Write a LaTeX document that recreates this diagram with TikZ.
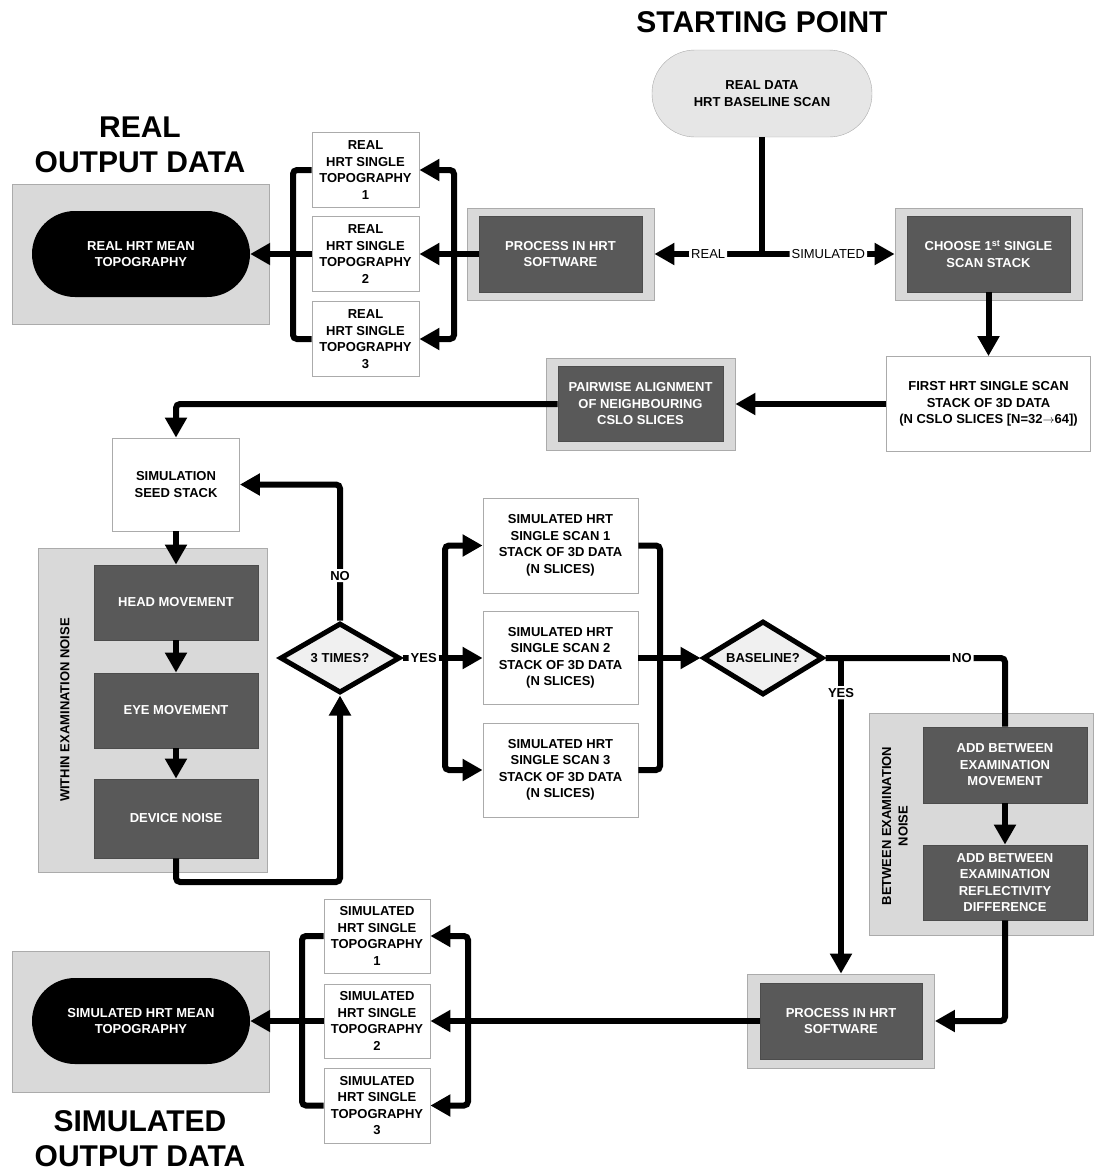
\documentclass[tikz,border=0pt]{standalone}
\usepackage{fontspec}
\setmainfont{Liberation Sans}
\usetikzlibrary{shapes.geometric}
\usetikzlibrary{arrows.meta}
\definecolor{boxdark}{HTML}{595959}
\definecolor{framegrey}{HTML}{D9D9D9}
\definecolor{edgegrey}{HTML}{ABABAB}
\definecolor{diafill}{HTML}{F0F0F0}
\definecolor{startfill}{HTML}{E6E6E6}
\newcommand{\boxfont}{\fontsize{13}{16.5}\selectfont\bfseries}
\newcommand{\labelfont}{\fontsize{13}{16}\selectfont}
\newcommand{\titlefont}{\fontsize{30}{35}\selectfont\bfseries}
\tikzset{
	whitebox/.style={
		rectangle,
		draw=edgegrey,
		fill=white,
		line width=0.8pt,
		align=center,
		inner sep=0pt,
		font=\boxfont
	},
	darkbox/.style={
		rectangle,
		draw=black!70,
		fill=boxdark,
		text=white,
		line width=0.8pt,
		align=center,
		inner sep=0pt,
		font=\boxfont
	},
	frame/.style={
		rectangle,
		draw=edgegrey,
		fill=framegrey,
		line width=0.8pt,
		inner sep=0pt
	},
	terminal/.style={
		rectangle,
		rounded corners=43pt,
		align=center,
		inner sep=0pt,
		font=\boxfont
	},
	decision/.style={
		diamond,
		aspect=2,
		draw=black,
		fill=diafill,
		line width=5pt,
		inner sep=0pt,
		font=\boxfont
	},
	conn/.style={line width=6pt, rounded corners=4pt},
	connarr/.style={conn, -{Triangle[length=20pt,width=21pt]}},
	lbl/.style={fill=white, inner sep=2pt, font=\boxfont}
}
\begin{document}
\begin{tikzpicture}[x=1pt, y=-1pt]
	\useasboundingbox (0,0) rectangle (1094,1171);

	% titles
	\draw node[font=\titlefont] (TitleStart) at (762,22) {STARTING POINT};
	\draw node[font=\titlefont, align=center] (TitleReal) at (140,145) {REAL\\OUTPUT DATA};
	\draw node[font=\titlefont, align=center] (TitleSim) at (140,1139) {SIMULATED\\OUTPUT DATA};

	% grey frames
	\draw node[frame, minimum width=257pt, minimum height=140pt] (RealOutFrame) at (140.5,254) {};
	\draw node[frame, minimum width=187pt, minimum height=92pt] (ProcRealFrame) at (560.5,254) {};
	\draw node[frame, minimum width=187pt, minimum height=92pt] (ChooseFrame) at (988.5,254) {};
	\draw node[frame, minimum width=189pt, minimum height=92pt] (PairwiseFrame) at (640.5,404) {};
	\draw node[frame, minimum width=229pt, minimum height=324pt] (WithinFrame) at (152.5,710) {};
	\draw node[frame, minimum width=224pt, minimum height=222pt] (BetweenFrame) at (981,824) {};
	\draw node[frame, minimum width=187pt, minimum height=94pt] (ProcSimFrame) at (841,1021) {};
	\draw node[frame, minimum width=257pt, minimum height=141pt] (SimOutFrame) at (140.5,1021.5) {};

	\draw node[font=\boxfont, rotate=90] (WithinLabel) at (65,710) {WITHIN EXAMINATION NOISE};
	\draw node[font=\boxfont, rotate=90, align=center] (BetweenLabel) at (895,826) {BETWEEN EXAMINATION\\NOISE};

	% real branch
	\draw node[terminal, minimum width=220pt, minimum height=87pt, draw=edgegrey, fill=startfill] (StartScan) at (762,93.5) {REAL DATA\\HRT BASELINE SCAN};
	\draw node[darkbox, minimum width=163pt, minimum height=76pt] (ProcReal) at (560.5,254) {PROCESS IN HRT\\SOFTWARE};
	\draw node[whitebox, minimum width=107pt, minimum height=75pt] (RealTopoOne) at (365.5,170) {REAL\\HRT SINGLE\\TOPOGRAPHY\\1};
	\draw node[whitebox, minimum width=107pt, minimum height=75pt] (RealTopoTwo) at (365.5,254) {REAL\\HRT SINGLE\\TOPOGRAPHY\\2};
	\draw node[whitebox, minimum width=107pt, minimum height=75pt] (RealTopoThree) at (365.5,339) {REAL\\HRT SINGLE\\TOPOGRAPHY\\3};
	\draw node[terminal, minimum width=218pt, minimum height=86pt, fill=black, text=white] (RealMean) at (141,254) {REAL HRT MEAN\\TOPOGRAPHY};

	% simulation
	\draw node[darkbox, minimum width=163pt, minimum height=76pt] (Choose) at (988.5,254) {CHOOSE 1\textsuperscript{st} SINGLE\\SCAN STACK};
	\draw node[whitebox, minimum width=204pt, minimum height=95pt] (FirstStack) at (988.5,404) {FIRST HRT SINGLE SCAN\\STACK OF 3D DATA\\(N CSLO SLICES [N=32$\rightarrow$64])};
	\draw node[darkbox, minimum width=165pt, minimum height=75pt] (Pairwise) at (640.5,404) {PAIRWISE ALIGNMENT\\OF NEIGHBOURING\\CSLO SLICES};
	\draw node[whitebox, minimum width=127pt, minimum height=93pt] (Seed) at (176,484.5) {SIMULATION\\SEED STACK};
	\draw node[darkbox, minimum width=164pt, minimum height=75pt] (Head) at (176,602.5) {HEAD MOVEMENT};
	\draw node[darkbox, minimum width=164pt, minimum height=75pt] (Eye) at (176,710.5) {EYE MOVEMENT};
	\draw node[darkbox, minimum width=164pt, minimum height=79pt] (Device) at (176,818.5) {DEVICE NOISE};
	\draw node[decision, minimum width=120pt, minimum height=70pt] (Times) at (340,658) {3 TIMES?};
	\draw node[whitebox, minimum width=155pt, minimum height=95pt] (SimOne) at (560.5,545.5) {SIMULATED HRT\\SINGLE SCAN 1\\STACK OF 3D DATA\\(N SLICES)};
	\draw node[whitebox, minimum width=155pt, minimum height=93pt] (SimTwo) at (560.5,658) {SIMULATED HRT\\SINGLE SCAN 2\\STACK OF 3D DATA\\(N SLICES)};
	\draw node[whitebox, minimum width=155pt, minimum height=94pt] (SimThree) at (560.5,770) {SIMULATED HRT\\SINGLE SCAN 3\\STACK OF 3D DATA\\(N SLICES)};
	\draw node[decision, minimum width=120pt, minimum height=74pt] (Baseline) at (763,658) {BASELINE?};
	\draw node[darkbox, minimum width=164pt, minimum height=76pt] (AddMove) at (1005,765) {ADD BETWEEN\\EXAMINATION\\MOVEMENT};
	\draw node[darkbox, minimum width=164pt, minimum height=75pt] (AddRefl) at (1005,882.5) {ADD BETWEEN\\EXAMINATION\\REFLECTIVITY\\DIFFERENCE};
	\draw node[darkbox, minimum width=162pt, minimum height=76pt] (ProcSim) at (841,1021) {PROCESS IN HRT\\SOFTWARE};
	\draw node[whitebox, minimum width=106pt, minimum height=74pt] (SimTopoOne) at (377,936) {SIMULATED\\HRT SINGLE\\TOPOGRAPHY\\1};
	\draw node[whitebox, minimum width=106pt, minimum height=74pt] (SimTopoTwo) at (377,1021) {SIMULATED\\HRT SINGLE\\TOPOGRAPHY\\2};
	\draw node[whitebox, minimum width=106pt, minimum height=75pt] (SimTopoThree) at (377,1105.5) {SIMULATED\\HRT SINGLE\\TOPOGRAPHY\\3};
	\draw node[terminal, minimum width=218pt, minimum height=86pt, fill=black, text=white] (SimMean) at (141,1021) {SIMULATED HRT MEAN\\TOPOGRAPHY};

	\coordinate (StartFork) at (762,254);
	\coordinate (RealSplit) at (454,254);
	\coordinate (RealJoin) at (293,254);
	\coordinate (LoopCorner) at (340,882);
	\coordinate (YesFork) at (445,658);
	\coordinate (SimJoin) at (660,658);
	\coordinate (BaseFork) at (841,658);
	\coordinate (NoCorner) at (1005,658);
	\coordinate (SimSplit) at (468,1021);
	\coordinate (SimJoinOut) at (302,1021);

	\draw [conn] (StartScan.south) -- (StartFork);
	\draw [connarr] (StartFork) -- node[lbl, font=\labelfont]{REAL} (ProcRealFrame.east);
	\draw [connarr] (StartFork) -- node[lbl, font=\labelfont]{SIMULATED} (ChooseFrame.west);

	\draw [connarr] (ProcReal.west) -- (RealTopoTwo.east);
	\draw [connarr] (RealSplit) |- (RealTopoOne.east);
	\draw [connarr] (RealSplit) |- (RealTopoThree.east);
	\draw [conn] (RealTopoOne.west) -| (RealJoin) |- (RealTopoThree.west);
	\draw [connarr] (RealTopoTwo.west) -- (RealMean.east);

	\draw [connarr] (Choose.south) -- (FirstStack.north);
	\draw [connarr] (FirstStack.west) -- (PairwiseFrame.east);
	\draw [connarr] (Pairwise.west) -| (Seed.north);
	\draw [connarr] (Seed.south) -- (Head.north);
	\draw [connarr] (Head.south) -- (Eye.north);
	\draw [connarr] (Eye.south) -- (Device.north);
	\draw [connarr] (Device.south) |- (LoopCorner) -- (Times.south);
	\draw [connarr] (Times.north) |- node[lbl, pos=0.165]{NO} (Seed.east);

	\draw [conn] (Times.east) -- node[lbl]{YES} (YesFork);
	\draw [connarr] (YesFork) -- (SimTwo.west);
	\draw [connarr] (YesFork) |- (SimOne.west);
	\draw [connarr] (YesFork) |- (SimThree.west);
	\draw [conn] (SimOne.east) -| (SimJoin) |- (SimThree.east);
	\draw [connarr] (SimTwo.east) -- (Baseline.west);

	\draw [conn] (Baseline.east) -- node[lbl, pos=0.76]{NO} (NoCorner) -- (AddMove.north);
	\draw [connarr] (BaseFork) -- node[lbl, pos=0.11]{YES} (ProcSimFrame.north);
	\draw [connarr] (AddMove.south) -- (AddRefl.north);
	\draw [connarr] (AddRefl.south) |- (ProcSimFrame.east);

	\draw [connarr] (ProcSim.west) -- (SimTopoTwo.east);
	\draw [connarr] (SimSplit) |- (SimTopoOne.east);
	\draw [connarr] (SimSplit) |- (SimTopoThree.east);
	\draw [conn] (SimTopoOne.west) -| (SimJoinOut) |- (SimTopoThree.west);
	\draw [connarr] (SimTopoTwo.west) -- (SimMean.east);
\end{tikzpicture}
\end{document}
